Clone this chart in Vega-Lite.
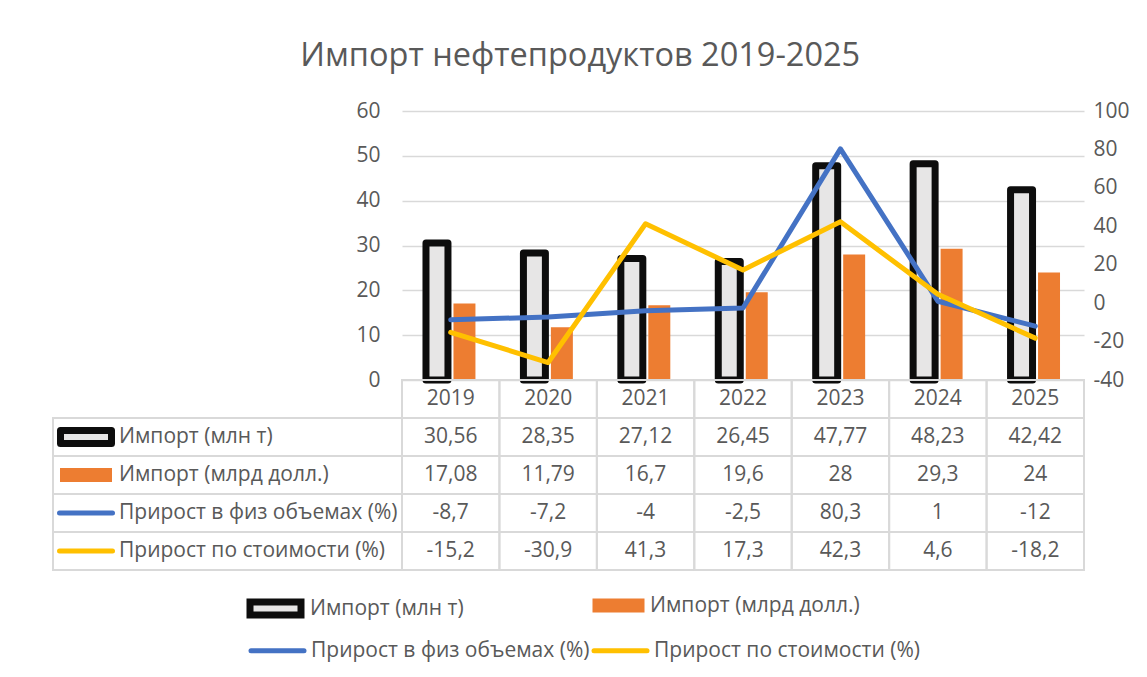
{
  "$schema": "https://vega.github.io/schema/vega-lite/v6.json",
  "title": {"text": "Импорт нефтепродуктов 2019-2025", "fontSize": 32.5, "fontWeight": "normal", "color": "#595959", "anchor": "middle", "offset": 28, "dx": -9},
  "padding": {"left": 49, "top": 39, "right": 8, "bottom": 8},
  "autosize": {"type": "pad"},
  "data": {"values": [
    {"year": "2019", "series": "Импорт (млн т)", "value": 30.56},
    {"year": "2020", "series": "Импорт (млн т)", "value": 28.35},
    {"year": "2021", "series": "Импорт (млн т)", "value": 27.12},
    {"year": "2022", "series": "Импорт (млн т)", "value": 26.45},
    {"year": "2023", "series": "Импорт (млн т)", "value": 47.77},
    {"year": "2024", "series": "Импорт (млн т)", "value": 48.23},
    {"year": "2025", "series": "Импорт (млн т)", "value": 42.42},
    {"year": "2019", "series": "Импорт (млрд долл.)", "value": 17.08},
    {"year": "2020", "series": "Импорт (млрд долл.)", "value": 11.79},
    {"year": "2021", "series": "Импорт (млрд долл.)", "value": 16.7},
    {"year": "2022", "series": "Импорт (млрд долл.)", "value": 19.6},
    {"year": "2023", "series": "Импорт (млрд долл.)", "value": 28},
    {"year": "2024", "series": "Импорт (млрд долл.)", "value": 29.3},
    {"year": "2025", "series": "Импорт (млрд долл.)", "value": 24},
    {"year": "2019", "series": "Прирост в физ объемах (%)", "value": -8.7},
    {"year": "2020", "series": "Прирост в физ объемах (%)", "value": -7.2},
    {"year": "2021", "series": "Прирост в физ объемах (%)", "value": -4},
    {"year": "2022", "series": "Прирост в физ объемах (%)", "value": -2.5},
    {"year": "2023", "series": "Прирост в физ объемах (%)", "value": 80.3},
    {"year": "2024", "series": "Прирост в физ объемах (%)", "value": 1},
    {"year": "2025", "series": "Прирост в физ объемах (%)", "value": -12},
    {"year": "2019", "series": "Прирост по стоимости (%)", "value": -15.2},
    {"year": "2020", "series": "Прирост по стоимости (%)", "value": -30.9},
    {"year": "2021", "series": "Прирост по стоимости (%)", "value": 41.3},
    {"year": "2022", "series": "Прирост по стоимости (%)", "value": 17.3},
    {"year": "2023", "series": "Прирост по стоимости (%)", "value": 42.3},
    {"year": "2024", "series": "Прирост по стоимости (%)", "value": 4.6},
    {"year": "2025", "series": "Прирост по стоимости (%)", "value": -18.2}
  ]},
  "columns": 2,
  "spacing": 0,
  "bounds": "flush",
  "concat": [
    {
      "width": 349, "height": 269,
      "data": {"values": []},
      "mark": {"type": "point", "opacity": 0},
      "encoding": {}
    },
    {
      "width": 682, "height": 269,
      "encoding": {
        "x": {"field": "year", "type": "nominal", "scale": {"paddingInner": 0.436, "paddingOuter": 0.218}, "axis": null}
      },
      "layer": [
        {
          "encoding": {
            "xOffset": {"field": "series", "type": "nominal", "scale": {"domain": ["Импорт (млн т)", "Импорт (млрд долл.)"], "paddingInner": 0.2, "paddingOuter": 0.1}},
            "y": {"field": "value", "type": "quantitative", "scale": {"domain": [0, 60], "nice": false}, "axis": {"orient": "left", "values": [0, 10, 20, 30, 40, 50, 60], "grid": true, "labelPadding": 22, "title": null}}
          },
          "layer": [
            {
              "transform": [{"filter": "datum.series == 'Импорт (млн т)'"}],
              "mark": {"type": "bar", "stroke": "#0d0d0d", "strokeWidth": 7, "strokeJoin": "round"},
              "encoding": {
                "fill": {"field": "series", "type": "nominal",
                  "scale": {"domain": ["Импорт (млн т)"], "range": ["#e7e6e6"]},
                  "legend": {
                    "orient": "none", "legendX": 209, "legendY": 484, "title": null, "padding": 0,
                    "symbolSize": 400, "symbolType": "M-2.55,-0.65H2.55V0.65H-2.55Z", "symbolStrokeColor": "#0d0d0d", "symbolStrokeWidth": 7, "symbolOpacity": 1,
                    "labelOffset": 21, "labelFontSize": 21, "labelColor": "#595959", "labelLimit": 0
                  }
                }
              }
            },
            {
              "transform": [{"filter": "datum.series == 'Импорт (млрд долл.)'"}],
              "mark": {"type": "bar", "strokeWidth": 0},
              "encoding": {
                "color": {"field": "series", "type": "nominal",
                  "scale": {"domain": ["Импорт (млрд долл.)"], "range": ["#ed7d31"]},
                  "legend": {
                    "orient": "none", "legendX": 555, "legendY": 484, "title": null, "padding": 0,
                    "symbolSize": 400, "symbolType": "M-2.6,-0.7H2.6V0.7H-2.6Z", "symbolStrokeWidth": 0, "symbolOpacity": 1,
                    "labelOffset": 21, "labelFontSize": 21, "labelColor": "#595959", "labelLimit": 0
                  }
                }
              }
            }
          ]
        },
        {
          "transform": [{"filter": {"field": "series", "oneOf": ["Прирост в физ объемах (%)", "Прирост по стоимости (%)"]}}],
          "mark": {"type": "line", "strokeWidth": 5, "strokeCap": "round", "strokeJoin": "round"},
          "encoding": {
            "y": {"field": "value", "type": "quantitative", "scale": {"domain": [-40, 100], "nice": false}, "axis": {"orient": "right", "values": [-40, -20, 0, 20, 40, 60, 80, 100], "grid": false, "labelPadding": 9, "title": null}},
            "stroke": {"field": "series", "type": "nominal",
              "scale": {"domain": ["Прирост в физ объемах (%)", "Прирост по стоимости (%)"], "range": ["#4472c4", "#ffc000"]},
              "legend": {
                "orient": "none", "legendX": 212, "legendY": 527, "direction": "horizontal", "title": null, "padding": 0,
                "symbolSize": 400, "labelOffset": 21, "columnPadding": -6,
                "labelFontSize": 21, "labelColor": "#595959", "labelLimit": 0,
                "encode": {"symbols": {"update": {
                  "shape": {"value": "M-2.65,0H2.65"},
                  "fill": {"value": "transparent"},
                  "strokeWidth": {"value": 5},
                  "strokeCap": {"value": "round"},
                  "opacity": {"value": 1},
                  "strokeOpacity": {"value": 1}
                }}}
              }
            }
          }
        }
      ],
      "resolve": {"scale": {"y": "independent"}}
    },
    {
      "width": 349, "height": 190,
      "transform": [{"filter": "datum.year == '2019'"}],
      "encoding": {
        "y": {"field": "series", "type": "nominal", "scale": {"domain": ["Год", "Импорт (млн т)", "Импорт (млрд долл.)", "Прирост в физ объемах (%)", "Прирост по стоимости (%)"], "paddingInner": 0, "paddingOuter": 0}, "axis": null},
        "x": {"datum": "Ряд", "type": "nominal", "scale": {"paddingInner": 0, "paddingOuter": 0}, "axis": null}
      },
      "layer": [
        {
          "mark": {"type": "rect", "fill": "transparent", "stroke": "#d9d9d9", "strokeWidth": 2}
        },
        {
          "transform": [{"filter": "datum.series == 'Импорт (млн т)'"}],
          "mark": {"type": "point", "filled": true, "size": 400, "opacity": 1, "xOffset": 33, "strokeJoin": "round", "shape": "M-2.55,-0.65H2.55V0.65H-2.55Z", "fill": "#e7e6e6", "stroke": "#0d0d0d", "strokeWidth": 7},
          "encoding": {"x": {"datum": "Ряд", "type": "nominal", "bandPosition": 0}}
        },
        {
          "transform": [{"filter": "datum.series == 'Импорт (млрд долл.)'"}],
          "mark": {"type": "point", "filled": true, "size": 400, "opacity": 1, "xOffset": 33, "shape": "M-2.6,-0.7H2.6V0.7H-2.6Z", "fill": "#ed7d31", "strokeWidth": 0},
          "encoding": {"x": {"datum": "Ряд", "type": "nominal", "bandPosition": 0}}
        },
        {
          "transform": [{"filter": {"field": "series", "oneOf": ["Прирост в физ объемах (%)", "Прирост по стоимости (%)"]}}],
          "mark": {"type": "point", "filled": false, "size": 400, "opacity": 1, "xOffset": 33, "strokeCap": "round", "shape": "M-2.65,0H2.65", "strokeWidth": 5},
          "encoding": {
            "x": {"datum": "Ряд", "type": "nominal", "bandPosition": 0},
            "stroke": {"field": "series", "type": "nominal", "scale": {"domain": ["Прирост в физ объемах (%)", "Прирост по стоимости (%)"], "range": ["#4472c4", "#ffc000"]}, "legend": null}
          }
        },
        {
          "mark": {"type": "text", "align": "left", "dx": 66, "fontSize": 21, "color": "#595959"},
          "encoding": {
            "x": {"datum": "Ряд", "type": "nominal", "bandPosition": 0},
            "text": {"field": "series", "type": "nominal"}
          }
        }
      ]
    },
    {
      "width": 682, "height": 190,
      "encoding": {
        "x": {"field": "year", "type": "nominal", "scale": {"paddingInner": 0, "paddingOuter": 0}, "axis": null}
      },
      "layer": [
        {
          "mark": {"type": "rect", "fill": "transparent", "stroke": "#d9d9d9", "strokeWidth": 2},
          "encoding": {"y": {"field": "series", "type": "nominal", "scale": {"domain": ["Год", "Импорт (млн т)", "Импорт (млрд долл.)", "Прирост в физ объемах (%)", "Прирост по стоимости (%)"], "paddingInner": 0, "paddingOuter": 0}, "axis": null}}
        },
        {
          "transform": [{"filter": "datum.series == 'Импорт (млн т)'"}],
          "mark": {"type": "rect", "fill": "transparent", "stroke": "#d9d9d9", "strokeWidth": 2},
          "encoding": {"y": {"datum": "Год", "type": "nominal"}}
        },
        {
          "mark": {"type": "text", "fontSize": 21, "color": "#595959"},
          "encoding": {
            "y": {"field": "series", "type": "nominal"},
            "text": {"field": "value", "type": "quantitative", "format": "~g"}
          }
        },
        {
          "transform": [{"filter": "datum.series == 'Импорт (млн т)'"}],
          "mark": {"type": "text", "fontSize": 21, "color": "#595959"},
          "encoding": {
            "y": {"datum": "Год", "type": "nominal"},
            "text": {"field": "year", "type": "nominal"}
          }
        }
      ]
    }
  ],
  "config": {
    "font": "Open Sans",
    "view": {"stroke": null},
    "locale": {"number": {"decimal": ",", "thousands": " ", "grouping": [3], "currency": ["", ""], "minus": "-"}},
    "axis": {"labelFontSize": 21, "labelColor": "#595959", "domain": false, "ticks": false, "gridColor": "#d9d9d9", "gridWidth": 1.5},
    "legend": {"labelFont": "Open Sans"}
  }
}
